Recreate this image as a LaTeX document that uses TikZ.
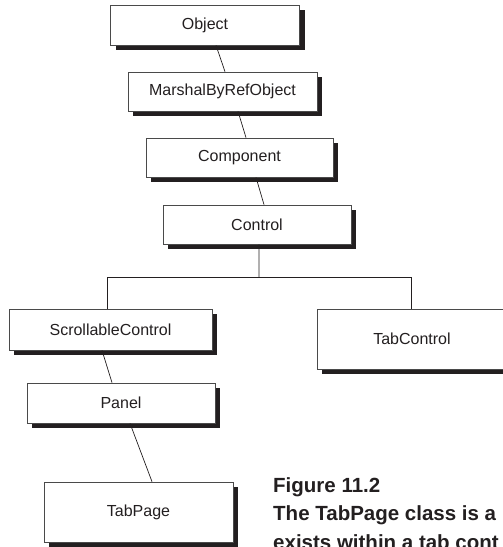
\documentclass[tikz,border=0pt]{standalone}
\usepackage{fontspec}
\setmainfont{Liberation Sans}
\usetikzlibrary{shadows}
\definecolor{ink}{HTML}{231F20}
\definecolor{edge}{HTML}{4A4A4A}
\tikzset{
  classbox/.style={draw=edge, line width=0.7bp, fill=white, inner sep=0pt,
    minimum width=189bp, minimum height=39bp, text=ink,
    font=\fontsize{16bp}{18bp}\selectfont,
    drop shadow={shadow xshift=5bp, shadow yshift=-5bp, fill=ink, opacity=1}},
  link/.style={draw=ink, line width=0.7bp},
  captxt/.style={anchor=base west, inner sep=0pt, text=ink,
    font=\fontsize{20.5bp}{24bp}\selectfont\bfseries}
}
\begin{document}
\begin{tikzpicture}[x=1bp, y=-1bp]
\useasboundingbox (0,0) rectangle (503,547);
\clip (0,0) rectangle (503,547);
\node[classbox, minimum height=40bp] (obj) at (205,25) {Object};
\node[classbox] (mbr) at (222.5,91.5) {MarshalByRefObject};
\node[classbox, minimum width=187bp] (comp) at (239.5,157.5) {Component};
\node[classbox, minimum width=188bp] (ctl) at (257,224.5) {Control};
\node[classbox, minimum width=203bp, minimum height=41bp] (scr) at (110.5,329.5) {ScrollableControl};
\node[classbox, minimum width=190bp, minimum height=60bp] (tc) at (412,339) {TabControl};
\node[classbox, minimum width=188bp, minimum height=40bp] (pan) at (121,403) {Panel};
\node[classbox, minimum height=60bp] (tp) at (138.5,512) {TabPage};
\coordinate (bus) at (259,277);
\draw[link] ([xshift=11bp]obj.south) -- ([xshift=2.5bp]mbr.north);
\draw[link] ([xshift=15.5bp]mbr.south) -- ([xshift=6.5bp]comp.north);
\draw[link] ([xshift=16.5bp]comp.south) -- ([xshift=7bp]ctl.north);
\draw[link] ([xshift=2bp]ctl.south) -- (bus);
\draw[link] (bus) -| ([xshift=-3.5bp]scr.north);
\draw[link] (bus) -| ([xshift=-1bp]tc.north);
\draw[link] ([xshift=-8.5bp]scr.south) -- ([xshift=-9bp]pan.north);
\draw[link] ([xshift=9bp]pan.south) -- ([xshift=13.5bp]tp.north);
\node[captxt] (cap1) at (273,492.3) {Figure 11.2};
\node[captxt] (cap2) at (273,520.7) {The TabPage class is a};
\node[captxt] (cap3) at (273,549) {exists within a tab cont};
\end{tikzpicture}
\end{document}
